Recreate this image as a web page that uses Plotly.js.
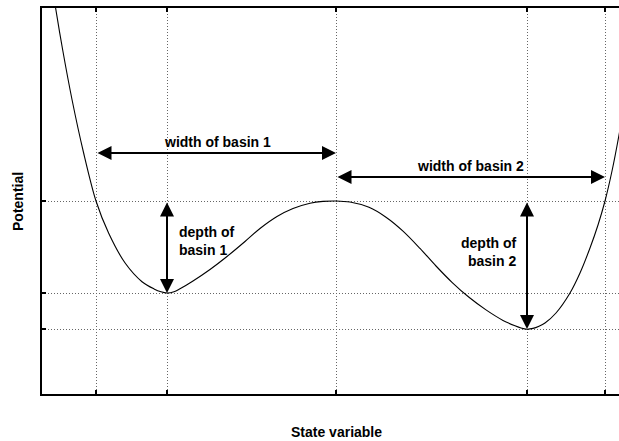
<!DOCTYPE html>
<html>
<head>
<meta charset="utf-8">
<script src="https://cdn.plot.ly/plotly-3.0.1.min.js"></script>
<style>html,body{margin:0;padding:0;background:#fff;}#chart{width:619px;height:441px;}</style>
</head>
<body>
<div id="chart"></div>
<script>
// State variable (arbitrary units, barrier top at 0) and potential
var stateX = [-2.82, -2.804, -2.733, -2.639, -2.526, -2.40, -2.273, -2.107, -1.94, -1.82, -1.75, -1.69,
              -1.62, -1.56, -1.43, -1.26, -1.09, -0.91, -0.76, -0.59, -0.43, -0.26, -0.13, 0.00,
              0.14, 0.33, 0.50, 0.67, 0.84, 1.00, 1.16, 1.33, 1.50, 1.67, 1.79, 1.85, 1.91,
              1.97, 2.03, 2.09, 2.20, 2.34, 2.44, 2.54, 2.62, 2.69, 2.76, 2.83, 2.94];
var potential = [2.04, 1.93, 1.51, 1.01, 0.49, 0.00, -0.323, -0.623, -0.807, -0.879, -0.908, -0.92,
                 -0.908, -0.878, -0.80, -0.685, -0.555, -0.405, -0.275, -0.155, -0.075, -0.022, -0.004, 0.00,
                 -0.01, -0.063, -0.162, -0.301, -0.474, -0.650, -0.813, -0.963, -1.089, -1.194, -1.248, -1.270, -1.282,
                 -1.274, -1.252, -1.220, -1.12, -0.92, -0.72, -0.47, -0.24, 0.00, 0.30, 0.66, 1.30];
// Key positions (ticks / grid lines)
var xTicks = [-2.40, -1.69, 0.00, 1.91, 2.69];   // left edge, min 1, barrier, min 2, right edge
var yTicks = [0.00, -0.92, -1.28];               // barrier, min 1, min 2
var labels = {
  width1: "width of basin 1",
  width2: "width of basin 2",
  depth1: "depth of<br>basin 1",
  depth2: "depth of<br>basin 2",
  xTitle: "State variable",
  yTitle: "Potential"
};

var font = {family: "Liberation Sans, Arial, sans-serif", size: 14, color: "#000"};
var bold = function(s){ return "<b>" + s.replace("<br>", "</b><br><b>") + "</b>"; };

function arrow(x0, y0, x1, y1) {
  return {x: x1, y: y1, ax: x0, ay: y0, xref: "x", yref: "y", axref: "x", ayref: "y",
          text: "", showarrow: true, arrowhead: 2, startarrowhead: 2, arrowside: "end+start",
          arrowsize: 1.4, startarrowsize: 1.4, arrowwidth: 2, arrowcolor: "#000", standoff: 0, startstandoff: 0};
}

var trace = {
  x: stateX, y: potential, type: "scatter", mode: "lines",
  line: {color: "#000", width: 1.1, shape: "spline", smoothing: 0.9},
  hoverinfo: "skip", showlegend: false
};

var axisCommon = {
  showline: true, linecolor: "#000", linewidth: 2,
  ticks: "inside", ticklen: 4, tickwidth: 1.5, tickcolor: "#000",
  showticklabels: false, showgrid: true, gridcolor: "#666", gridwidth: 1, griddash: "1px,2px",
  zeroline: false, tickmode: "array"
};

var layout = {
  width: 619, height: 441,
  margin: {l: 42, r: 0, t: 8, b: 47},
  paper_bgcolor: "#fff", plot_bgcolor: "#fff",
  xaxis: Object.assign({}, axisCommon, {range: [-2.94, 2.83], tickvals: xTicks, mirror: "ticks"}),
  yaxis: Object.assign({}, axisCommon, {range: [-1.93, 1.93], tickvals: yTicks, mirror: false}),
  font: font,
  annotations: [
    arrow(xTicks[0], 0.48, xTicks[2], 0.48),
    arrow(xTicks[2], 0.24, xTicks[4], 0.24),
    arrow(xTicks[1], yTicks[0], xTicks[1], yTicks[1]),
    arrow(xTicks[3], yTicks[0], xTicks[3], yTicks[2]),
    {x: -1.19, y: 0.59, xref: "x", yref: "y", text: bold(labels.width1), showarrow: false, font: font},
    {x: 1.34, y: 0.35, xref: "x", yref: "y", text: bold(labels.width2), showarrow: false, font: font},
    {x: -1.59, y: -0.40, xref: "x", yref: "y", text: bold(labels.depth1), showarrow: false,
     xanchor: "left", align: "left", font: font},
    {x: 1.83, y: -0.51, xref: "x", yref: "y", text: bold(labels.depth2), showarrow: false,
     xanchor: "right", align: "right", font: font},
    {x: 0, y: -0.098, xref: "x", yref: "paper", text: bold(labels.xTitle), showarrow: false,
     yanchor: "middle", font: font},
    {x: -0.0416, y: 0, xref: "paper", yref: "y", text: bold(labels.yTitle), showarrow: false,
     textangle: -90, xanchor: "center", font: font}
  ]
};

Plotly.newPlot("chart", [trace], layout, {staticPlot: true, displayModeBar: false});
</script>
</body>
</html>
